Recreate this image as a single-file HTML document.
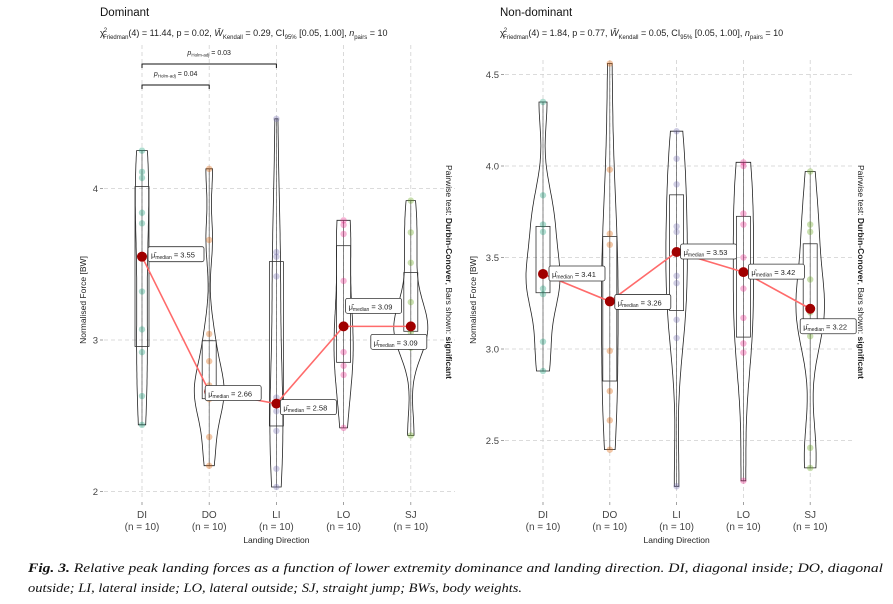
<!DOCTYPE html>
<html><head><meta charset="utf-8"><style>
body{margin:0;background:#fff;}
svg{display:block;font-family:"Liberation Sans",sans-serif;}
</style></head><body>
<svg id="fig" width="893" height="604" viewBox="0 0 893 604"></svg>
<script>
// ---- data ----
const categories = ["DI","DO","LI","LO","SJ"];
const colors = ["#1B9E77","#D95F02","#7570B3","#E7298A","#66A61E"];
const domDI = [4.25,4.11,4.07,3.84,3.77,3.32,3.07,2.92,2.63,2.44];
const domDO = [4.13,3.66,3.04,2.86,2.70,2.62,2.61,2.36,2.17,2.66];
const domLI = [4.46,3.58,3.55,3.42,2.62,2.53,2.40,2.15,2.03,2.58];
const domLO = [3.79,3.76,3.70,3.39,3.09,3.09,2.92,2.83,2.77,2.42];
const domSJ = [3.92,3.71,3.51,3.25,3.10,3.08,3.08,2.95,3.05,2.37];
const domMedians = [3.55,2.66,2.58,3.09,3.09];
const ndDI = [4.35,3.84,3.68,3.64,3.42,3.41,3.33,3.30,3.04,2.88];
const ndDO = [4.56,3.98,3.63,3.57,3.27,3.25,2.99,2.77,2.61,2.45];
const ndLI = [4.19,4.04,3.90,3.67,3.64,3.40,3.36,3.16,3.06,2.25];
const ndLO = [4.02,4.00,3.74,3.68,3.50,3.33,3.17,3.03,2.98,2.28];
const ndSJ = [3.97,3.68,3.64,3.38,3.22,3.22,3.20,3.07,2.46,2.35];
const ndMedians = [3.41,3.26,3.53,3.42,3.22];
const domTicks = [2,3,4];
const ndTicks = [2.5,3.0,3.5,4.0,4.5];

const NS="http://www.w3.org/2000/svg";
const svg=document.getElementById('fig');
function mk(tag,attrs,parent,text){const e=document.createElementNS(NS,tag);for(const k in attrs)e.setAttribute(k,attrs[k]);if(text!==undefined)e.textContent=text;(parent||svg).appendChild(e);return e;}

function quant(arr,p){const s=[...arr].sort((a,b)=>a-b);const h=(s.length-1)*p;const lo=Math.floor(h);return s[lo]+(h-lo)*((s[lo+1]??s[lo])-s[lo]);}
function kde(arr,y){const n=arr.length;const m=arr.reduce((a,b)=>a+b)/n;const sd=Math.sqrt(arr.reduce((a,b)=>a+(b-m)**2,0)/(n-1));const iqr=quant(arr,.75)-quant(arr,.25);const bw=0.9*Math.min(sd,iqr/1.34||sd)*Math.pow(n,-0.2);let s=0;for(const v of arr){const z=(y-v)/bw;s+=Math.exp(-z*z/2);}return s/(n*bw*Math.sqrt(2*Math.PI));}

function panel(opt){
  const g=mk('g',{},svg);
  
  
  const xs=i=>opt.x0+i*opt.dx;
  const ys=v=>opt.yRef-(v-opt.vRef)*opt.pxPerUnit;
  opt.ticks.forEach(t=>{
    const l=mk('line',{x1:opt.left,x2:opt.right,y1:ys(t),y2:ys(t),stroke:'#d0d0d0','stroke-dasharray':'4,3','stroke-width':0.8},g);
    
    const tk=mk('text',{x:opt.left-6,y:ys(t)+3.5,'text-anchor':'end','font-size':9.5,fill:'#444'},g,opt.fmt(t));
    
    mk('line',{x1:opt.left-4,x2:opt.left-1,y1:ys(t),y2:ys(t),stroke:'#888','stroke-width':0.8},g);
  });
  categories.forEach((c,i)=>{
    const l=mk('line',{x1:xs(i),x2:xs(i),y1:opt.gridTop,y2:opt.bottom,stroke:'#d0d0d0','stroke-dasharray':'4,3','stroke-width':0.8},g);
    
    mk('line',{x1:xs(i),x2:xs(i),y1:opt.bottom+2,y2:opt.bottom+5,stroke:'#888','stroke-width':0.8},g);
    const t1=mk('text',{x:xs(i),y:518,'text-anchor':'middle','font-size':10,fill:'#444'},g,c);
    
    const t2=mk('text',{x:xs(i),y:530,'text-anchor':'middle','font-size':10,fill:'#444'},g,'(n = 10)');
    
  });
  let maxD=0;
  opt.groups.forEach(a=>{const lo=Math.min(...a),hi=Math.max(...a);for(let k=0;k<=80;k++){maxD=Math.max(maxD,kde(a,lo+(hi-lo)*k/80));}});
  const scale=opt.maxHalf/maxD;
  opt.groups.forEach((a,i)=>{
    const lo=Math.min(...a),hi=Math.max(...a);const R=[],L=[];
    for(let k=0;k<=80;k++){const v=lo+(hi-lo)*k/80;const w=kde(a,v)*scale;R.push([xs(i)+w,ys(v)]);L.push([xs(i)-w,ys(v)]);}
    const pts=R.concat(L.reverse()).map(p=>p[0].toFixed(1)+','+p[1].toFixed(1)).join(' ');
    const v=mk('polygon',{points:pts,fill:'none',stroke:'#222','stroke-width':0.8},g);
    
    mk('line',{x1:xs(i),x2:xs(i),y1:ys(hi),y2:ys(lo),stroke:'#555','stroke-width':0.7},g);
    const q1=quant(a,.25),q3=quant(a,.75);
    const b=mk('rect',{x:xs(i)-7,y:ys(q3),width:14,height:ys(q1)-ys(q3),fill:'none',stroke:'#333','stroke-width':0.8},g);
    
    a.forEach(val=>{
      const p=mk('circle',{cx:xs(i),cy:ys(val),r:3.2,fill:colors[i],'fill-opacity':0.35},g);
      
    });
  });
  const path=opt.medians.map((m,i)=>(i?'L':'M')+xs(i)+','+ys(m)).join(' ');
  const ml=mk('path',{d:path,fill:'none',stroke:'#ff6b6b','stroke-width':1.6},g);
  
  opt.medians.forEach((m,i)=>{
    const c=mk('circle',{cx:xs(i),cy:ys(m),r:5,fill:'#a00000'},g);
    
    const off=opt.labelOff[i];
    const lx=xs(i)+off[0],ly=ys(m)+off[1];
    const lab=mk('g',{},g);
    
    mk('rect',{x:lx,y:ly-8,width:56,height:15,rx:2,fill:'#fff',stroke:'#333','stroke-width':0.8},lab);
    const t=mk('text',{x:lx+3,y:ly+3,'font-size':7.5,fill:'#222'},lab);
    mk('tspan',{},t,'μ̂');
    mk('tspan',{'font-size':5,dy:1.5},t,'median');
    mk('tspan',{dy:-1.5},t,' = '+m.toFixed(2));
  });
  const yt=mk('text',{x:0,y:0,transform:`translate(${opt.yTitleX},300) rotate(-90)`,'text-anchor':'middle','font-size':8.5,fill:'#222'},g,'Normalised Force [BW]');
  
  const xt=mk('text',{x:xs(2),y:543,'text-anchor':'middle','font-size':8.5,fill:'#222'},g,'Landing Direction');
  
  const st=mk('text',{x:0,y:0,transform:`translate(${opt.sideX},272) rotate(90)`,'text-anchor':'middle','font-size':8.5,fill:'#222'},g);
  
  mk('tspan',{},st,'Pairwise test: ');mk('tspan',{'font-weight':'bold'},st,'Durbin-Conover');mk('tspan',{},st,', Bars shown: ');mk('tspan',{'font-weight':'bold'},st,'significant');
  const ti=mk('text',{x:opt.titleX,y:16,'font-size':11.5,fill:'#111'},g,opt.title);
  
  const sub=mk('text',{x:opt.titleX,y:36,'font-size':9,fill:'#222'},g);
  
  mk('tspan',{},sub,'χ');mk('tspan',{'font-size':6,dy:-4,dx:-1},sub,'2');mk('tspan',{'font-size':6,dy:7,dx:-4},sub,'Friedman');mk('tspan',{dy:-3},sub,opt.sub1);
  mk('tspan',{'font-style':'italic'},sub,'Ŵ');mk('tspan',{'font-size':6,dy:3},sub,'Kendall');mk('tspan',{dy:-3},sub,opt.sub2);
  mk('tspan',{'font-size':6,dy:3},sub,'95%');mk('tspan',{dy:-3},sub,' [0.05, 1.00], ');mk('tspan',{'font-style':'italic'},sub,'n');mk('tspan',{'font-size':6,dy:3},sub,'pairs');mk('tspan',{dy:-3},sub,' = 10');
  return {xs,ys,g};
}

const L=panel({name:'dominant-panel',title:'Dominant',titleX:100,x0:142,dx:67.2,yRef:340,vRef:3,pxPerUnit:151.5,left:104,right:455,bottom:500,gridTop:45,
  ticks:domTicks,fmt:t=>String(t),groups:[domDI,domDO,domLI,domLO,domSJ],medians:domMedians,maxHalf:17,
  labelOff:[[6,-2],[-4,2],[4,4],[2,-20],[-40,16]],yTitleX:86,sideX:446,sub1:'(4) = 11.44, p = 0.02, ',sub2:' = 0.29, CI'});
const R=panel({name:'non-dominant-panel',title:'Non-dominant',titleX:500,x0:543,dx:66.8,yRef:349,vRef:3,pxPerUnit:183,left:505,right:855,bottom:500,gridTop:60,
  ticks:ndTicks,fmt:t=>t.toFixed(1),groups:[ndDI,ndDO,ndLI,ndLO,ndSJ],medians:ndMedians,maxHalf:17,
  labelOff:[[6,0],[5,1],[4,0],[5,0],[-10,18]],yTitleX:476,sideX:858,sub1:'(4) = 1.84, p = 0.77, ',sub2:' = 0.05, CI'});

function sig(i1,i2,y,label){
  const g=mk('g',{});
  
  mk('path',{d:`M${L.xs(i1)},${y+4} V${y} H${L.xs(i2)} V${y+4}`,fill:'none',stroke:'#111','stroke-width':1},g);
  const t=mk('text',{x:(L.xs(i1)+L.xs(i2))/2,y:y-9,'text-anchor':'middle','font-size':7,fill:'#222'},g);
  mk('tspan',{'font-style':'italic'},t,'p');mk('tspan',{'font-size':4.5,dy:1.5},t,'Holm-adj');mk('tspan',{dy:-1.5},t,' = '+label);
}
sig(0,2,64,'0.03');
sig(0,1,85,'0.04');

const cap=mk('text',{x:28,y:572,'font-family':'Liberation Serif, serif','font-style':'italic','font-size':12.5,fill:'#111',textLength:855,lengthAdjust:'spacingAndGlyphs'});

mk('tspan',{'font-weight':'bold'},cap,'Fig. 3.');
mk('tspan',{},cap,' Relative peak landing forces as a function of lower extremity dominance and landing direction. DI, diagonal inside; DO, diagonal');
const cap2=mk('text',{x:28,y:592,'font-family':'Liberation Serif, serif','font-style':'italic','font-size':12.5,fill:'#111',textLength:494,lengthAdjust:'spacingAndGlyphs'},svg,'outside; LI, lateral inside; LO, lateral outside; SJ, straight jump; BWs, body weights.');

</script>
</body></html>
